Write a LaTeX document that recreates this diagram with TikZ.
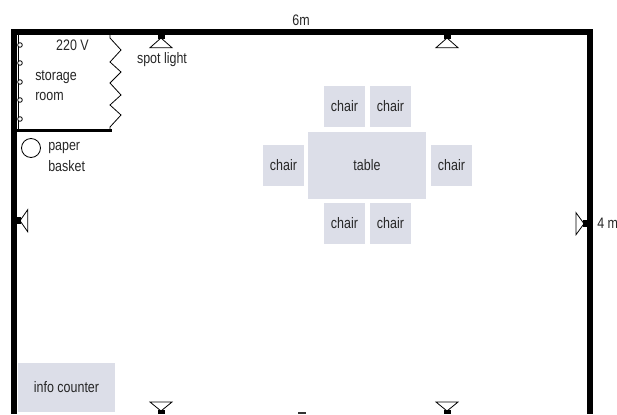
\documentclass[tikz,border=0pt]{standalone}
\usepackage{fontspec}
\setmainfont{Liberation Sans}[FakeStretch=0.82]
\definecolor{furn}{HTML}{DCDEE8}
\tikzset{
  x=0.75pt,y=-0.75pt,
  wall/.style={fill=black,draw=none},
  furniture/.style={fill=furn,draw=none,inner sep=0pt,font=\fontsize{11.4}{12}\selectfont,text=black!85},
  label/.style={inner sep=0pt,font=\fontsize{11.4}{12}\selectfont,text=black!85},
  lamp/.style={draw=black,fill=white,line width=0.6pt,line join=miter},
  thin line/.style={draw=black,line width=0.6pt}
}
\newcommand{\furn}[6]{\node[furniture,minimum width=#3*0.75pt,minimum height=#4*0.75pt] (#1) at (#5,#6) {\raisebox{-0.75pt}{#2}};}
\begin{document}
\begin{tikzpicture}
\useasboundingbox (0,0) rectangle (617,414);
% walls
\fill[wall] (11,29) rectangle (593,35);
\fill[wall] (11,29) rectangle (17,414);
\fill[wall] (587,29) rectangle (593,414);
\fill[wall] (17,129) rectangle (112,132);
\fill[black!80] (298,412) rectangle (306,414);
% zigzag
\draw[thin line,line join=miter] (110,35) -- (110,38) -- (121,50) -- (110,62) -- (121,72) -- (110,83) -- (121,95) -- (110,105) -- (121,115) -- (110,127) -- (110,129);
% window line with pins
\draw[thin line] (18.6,35) -- (18.6,129);
\foreach \yy in {45,63,82,100,119}
  \draw[thin line,fill=white] (20,\yy) circle[radius=2.3];
% lamps
\draw[lamp] (161,38) -- (172,47.7) -- (150,47.7) -- cycle;
\fill[wall] (157.5,35) rectangle (164.5,39);
\draw[lamp] (447,38) -- (458,47.7) -- (436,47.7) -- cycle;
\fill[wall] (443.5,35) rectangle (450.5,39);
\draw[lamp] (161,411) -- (172,402) -- (150,402) -- cycle;
\fill[wall] (157.5,410) rectangle (164.5,414);
\draw[lamp] (447,411) -- (458,402) -- (436,402) -- cycle;
\fill[wall] (443.5,410) rectangle (450.5,414);
\draw[lamp] (20,220.7) -- (27.7,209.7) -- (27.7,231.7) -- cycle;
\fill[wall] (17,217.2) rectangle (21,224.2);
\draw[lamp] (584,223.7) -- (576,212.7) -- (576,234.7) -- cycle;
\fill[wall] (583,220.2) rectangle (587,227.2);
% basket
\draw[thin line] (31,148) circle[radius=9.5];
% furniture
\furn{chairA}{chair}{41}{41}{344.5}{106.5}
\furn{chairB}{chair}{41}{41}{390.5}{106.5}
\furn{chairC}{chair}{41}{41}{283.5}{165.5}
\furn{chairD}{chair}{41}{41}{451.5}{165.5}
\furn{chairE}{chair}{41}{41}{344.5}{223.5}
\furn{chairF}{chair}{41}{41}{390.5}{223.5}
\furn{tbl}{table}{118}{67}{367}{165.5}
\furn{counter}{info counter}{97}{49}{66.5}{387.5}
% labels
\node[label] (w) at (301,20.5) {6m};
\node[label,anchor=west] (h) at (597,223.5) {4 m};
\node[label] (v) at (72.5,45.5) {220 V};
\node[label] (spot) at (162,59.5) {spot light};
\node[label,anchor=west] (s1) at (35,77.5) {storage};
\node[label,anchor=west] (s2) at (35,96) {room};
\node[label,anchor=west] (p1) at (48,148) {paper};
\node[label,anchor=west] (p2) at (48,166) {basket};
\end{tikzpicture}
\end{document}
